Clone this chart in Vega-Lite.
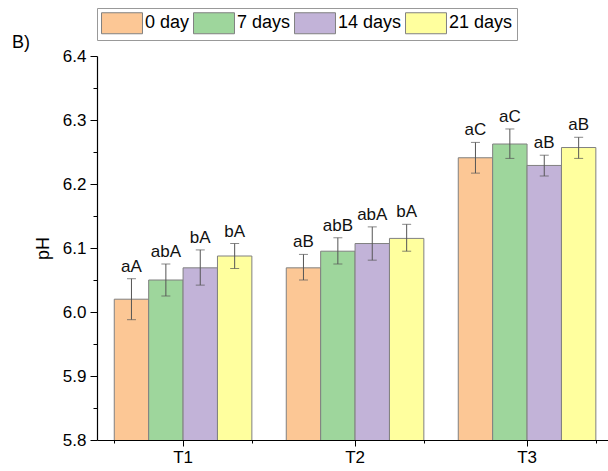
{
  "$schema": "https://vega.github.io/schema/vega-lite/v6.json",
  "width": 511,
  "height": 384,
  "autosize": {"type": "none"},
  "padding": {"left": 97, "top": 56, "right": 0, "bottom": 31},
  "background": "white",
  "title": {"text": "B)", "anchor": "start", "frame": "group", "orient": "top", "fontSize": 18, "font": "Liberation Sans", "fontWeight": "normal", "color": "#000", "dx": -85, "dy": 48},
  "config": {
    "view": {"stroke": null},
    "font": "Liberation Sans",
    "axis": {"domainColor": "#000", "tickColor": "#000", "labelColor": "#000", "titleColor": "#000", "grid": false, "labelFont": "Liberation Sans", "titleFont": "Liberation Sans"}
  },
  "data": {
    "values": [
      {"T": "T1", "day": "0 day", "mean": 6.020, "lo": 5.988, "hi": 6.052, "lab": "aA"},
      {"T": "T1", "day": "7 days", "mean": 6.050, "lo": 6.025, "hi": 6.075, "lab": "abA"},
      {"T": "T1", "day": "14 days", "mean": 6.069, "lo": 6.042, "hi": 6.097, "lab": "bA"},
      {"T": "T1", "day": "21 days", "mean": 6.0875, "lo": 6.068, "hi": 6.107, "lab": "bA"},
      {"T": "T2", "day": "0 day", "mean": 6.069, "lo": 6.050, "hi": 6.090, "lab": "aB"},
      {"T": "T2", "day": "7 days", "mean": 6.095, "lo": 6.075, "hi": 6.116, "lab": "abB"},
      {"T": "T2", "day": "14 days", "mean": 6.107, "lo": 6.081, "hi": 6.133, "lab": "abA"},
      {"T": "T2", "day": "21 days", "mean": 6.115, "lo": 6.095, "hi": 6.137, "lab": "bA"},
      {"T": "T3", "day": "0 day", "mean": 6.241, "lo": 6.217, "hi": 6.265, "lab": "aC"},
      {"T": "T3", "day": "7 days", "mean": 6.2625, "lo": 6.240, "hi": 6.286, "lab": "aC"},
      {"T": "T3", "day": "14 days", "mean": 6.229, "lo": 6.2125, "hi": 6.245, "lab": "aB"},
      {"T": "T3", "day": "21 days", "mean": 6.257, "lo": 6.240, "hi": 6.273, "lab": "aB"}
    ]
  },
  "layer": [
    {
      "mark": {"type": "bar", "stroke": "#808080", "strokeWidth": 1, "clip": true},
      "encoding": {
        "x": {"field": "T", "type": "nominal", "sort": ["T1", "T2", "T3"],
          "scale": {"paddingInner": 0.2, "paddingOuter": 0.0855, "align": 0.587},
          "axis": {"title": null, "labelAngle": 0, "labelFontSize": 17, "tickSize": 6, "labelPadding": 3, "domainWidth": 1.2}},
        "xOffset": {"field": "day", "type": "nominal", "sort": ["0 day", "7 days", "14 days", "21 days"], "scale": {"paddingInner": 0, "paddingOuter": 0}},
        "y": {"field": "mean", "type": "quantitative",
          "scale": {"domain": [5.8, 6.4], "zero": false, "nice": false},
          "axis": {"title": "pH", "titleFontSize": 18, "titleFontWeight": "normal", "titlePadding": 10, "values": [5.8, 5.9, 6.0, 6.1, 6.2, 6.3, 6.4], "format": ".1f", "labelFontSize": 17, "tickSize": 7, "labelPadding": 4, "domainWidth": 1.2}},
        "color": {"field": "day", "type": "nominal", "sort": ["0 day", "7 days", "14 days", "21 days"],
          "scale": {"domain": ["0 day", "7 days", "14 days", "21 days"], "range": ["#FCC795", "#9ED69C", "#C2B3D8", "#FFFF9E"]},
          "legend": {"orient": "none", "legendX": 0, "legendY": -48, "direction": "horizontal", "title": null,
            "symbolType": "M-1.95,-1H1.95V1H-1.95Z", "symbolSize": 441, "symbolOffset": 10, "symbolStrokeColor": "#808080", "symbolStrokeWidth": 1, "symbolOpacity": 1,
            "labelFontSize": 18, "labelOffset": 12, "columnPadding": 1, "padding": 4, "strokeColor": "#999999", "fillColor": "white", "labelColor": "#000", "labelFont": "Liberation Sans"}},
        "opacity": {"value": 1}
      }
    },
    {
      "mark": {"type": "rule", "color": "#555555", "strokeWidth": 1},
      "encoding": {
        "x": {"field": "T", "type": "nominal", "sort": ["T1", "T2", "T3"], "axis": null},
        "xOffset": {"field": "day", "type": "nominal", "sort": ["0 day", "7 days", "14 days", "21 days"]},
        "y": {"field": "lo", "type": "quantitative", "axis": null},
        "y2": {"field": "hi"}
      }
    },
    {
      "mark": {"type": "tick", "color": "#555555", "thickness": 1, "size": 9},
      "encoding": {
        "x": {"field": "T", "type": "nominal", "sort": ["T1", "T2", "T3"],
          "axis": {"orient": "bottom", "title": null, "labels": false, "domain": false, "tickBand": "extent", "tickSize": 3}},
        "xOffset": {"field": "day", "type": "nominal", "sort": ["0 day", "7 days", "14 days", "21 days"]},
        "y": {"field": "lo", "type": "quantitative",
          "axis": {"orient": "left", "title": null, "labels": false, "domain": false, "tickSize": 4, "values": [5.85, 5.95, 6.05, 6.15, 6.25, 6.35]}}
      }
    },
    {
      "mark": {"type": "tick", "color": "#555555", "thickness": 1, "size": 9},
      "encoding": {
        "x": {"field": "T", "type": "nominal", "sort": ["T1", "T2", "T3"], "axis": null},
        "xOffset": {"field": "day", "type": "nominal", "sort": ["0 day", "7 days", "14 days", "21 days"]},
        "y": {"field": "hi", "type": "quantitative", "axis": null}
      }
    },
    {
      "mark": {"type": "text", "fontSize": 17, "baseline": "alphabetic", "dy": -7, "color": "#111", "font": "Liberation Sans"},
      "encoding": {
        "x": {"field": "T", "type": "nominal", "sort": ["T1", "T2", "T3"], "axis": null},
        "xOffset": {"field": "day", "type": "nominal", "sort": ["0 day", "7 days", "14 days", "21 days"]},
        "y": {"field": "hi", "type": "quantitative", "axis": null},
        "text": {"field": "lab"}
      }
    }
  ],
  "resolve": {"axis": {"x": "independent", "y": "independent"}}
}
